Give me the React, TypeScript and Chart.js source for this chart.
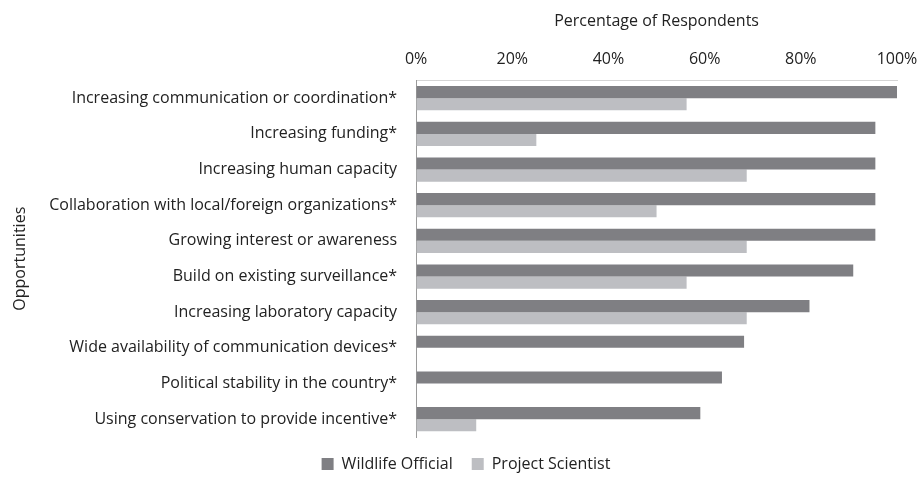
import React, { useEffect, useRef } from "react";
import { Chart, registerables } from "chart.js";

Chart.register(...registerables);

const categories = [
  "Increasing communication or coordination*",
  "Increasing funding*",
  "Increasing human capacity",
  "Collaboration with local/foreign organizations*",
  "Growing interest or awareness",
  "Build on existing surveillance*",
  "Increasing laboratory capacity",
  "Wide availability of communication devices*",
  "Political stability in the country*",
  "Using conservation to provide incentive*",
];
const wildlifeOfficial = [100, 95.5, 95.5, 95.5, 95.5, 90.9, 81.8, 68.2, 63.6, 59.1];
const projectScientist = [56.25, 25, 68.75, 50, 68.75, 56.25, 68.75, 0, 0, 12.5];
const xTicks = [0, 20, 40, 60, 80, 100];

const FONT = "'Open Sans', sans-serif";
const FS = 16;

export default function App() {
  const ref = useRef<HTMLCanvasElement | null>(null);
  useEffect(() => {
    document.body.style.margin = "0";
    const ctx = ref.current!;
    const chart = new Chart(ctx, {
      type: "bar",
      data: {
        labels: categories,
        datasets: [
          { label: "Wildlife Official", data: wildlifeOfficial, backgroundColor: "#7f7f83", categoryPercentage: 0.68, barPercentage: 1 },
          { label: "Project Scientist", data: projectScientist, backgroundColor: "#bdbec2", categoryPercentage: 0.68, barPercentage: 1 },
        ],
      },
      options: {
        indexAxis: "y",
        animation: false,
        responsive: true,
        maintainAspectRatio: false,
        layout: { padding: { left: 11, right: 0, top: 8, bottom: 0 } },
        scales: {
          x: {
            position: "top",
            min: 0,
            max: 100,
            afterBuildTicks: (axis: any) => {
              axis.ticks = xTicks.map((v) => ({ value: v }));
            },
            afterFit: (axis: any) => {
              axis.paddingRight = 24;
            },
            ticks: {
              callback: (v: any) => v + "%",
              font: { family: FONT, size: FS },
              color: "#222",
              padding: 11,
              maxRotation: 0,
            },
            title: {
              display: true,
              text: "Percentage of Respondents",
              font: { family: FONT, size: FS },
              color: "#222",
              padding: { top: 4, bottom: 8 },
            },
            grid: { drawOnChartArea: false, drawTicks: false },
            border: { color: "#d4d4d4", width: 1 },
          },
          y: {
            ticks: {
              font: { family: FONT, size: FS },
              color: "#222",
              padding: 19,
              autoSkip: false,
            },
            title: {
              display: true,
              text: "Opportunities",
              font: { family: FONT, size: FS },
              color: "#222",
              padding: { top: 0, bottom: 0 },
            },
            grid: { drawOnChartArea: false, drawTicks: false },
            border: { color: "#9a9a9a", width: 1 },
          },
        },
        plugins: {
          legend: {
            position: "bottom",
            labels: {
              boxWidth: 12,
              boxHeight: 12,
              font: { family: FONT, size: FS },
              color: "#222",
              padding: 19,
            },
          },
          tooltip: { enabled: false },
        },
      },
    });
    return () => chart.destroy();
  }, []);
  return (
    <div style={{ width: 921, height: 482, position: "relative" }}>
      <canvas ref={ref} />
    </div>
  );
}
